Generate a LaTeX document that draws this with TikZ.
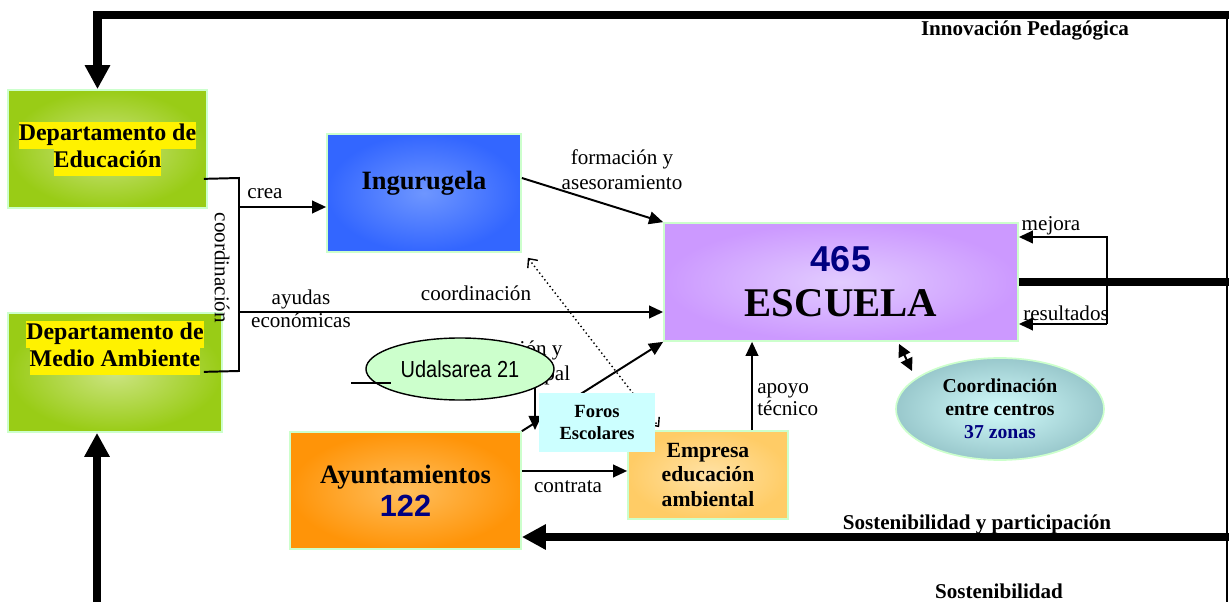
\documentclass[tikz,border=0pt]{standalone}
\usepackage{fontspec}
\usepackage{tikz}
\usetikzlibrary{shapes.geometric,arrows.meta}
\setmainfont{Liberation Serif}
\newfontfamily\arial{Liberation Sans}
\newfontfamily\arialn[FakeStretch=0.86]{Liberation Sans}
\definecolor{marino}{HTML}{000080}
\definecolor{bordeverde}{HTML}{CCFFCC}
\definecolor{verdeA}{HTML}{CCE482}
\definecolor{verdeB}{HTML}{99CC16}
\definecolor{azulA}{HTML}{6E96FF}
\definecolor{azulB}{HTML}{3366FF}
\definecolor{moradoA}{HTML}{E2CCFF}
\definecolor{moradoB}{HTML}{CC99FF}
\definecolor{naranjaA}{HTML}{FFBE5C}
\definecolor{naranjaB}{HTML}{FF9408}
\definecolor{cremaA}{HTML}{FFE2A6}
\definecolor{cremaB}{HTML}{FFCC66}
\definecolor{turquesaA}{HTML}{D2FBFB}
\definecolor{turquesaB}{HTML}{99C8CC}
\definecolor{celeste}{HTML}{CCFFFF}
\newcommand{\fs}[2]{\fontsize{#1}{#2}\selectfont}
\newcommand{\resalta}[1]{{\setlength{\fboxsep}{0pt}\colorbox{yellow}{\strut #1}}}
\newcommand{\cifra}[1]{{\arial\color{marino}#1}}
\tikzstyle{caja} = [rectangle, draw=bordeverde, line width=1.2pt, align=center, inner sep=2pt]
\tikzstyle{verde} = [caja, inner color=verdeA, outer color=verdeB]
\tikzstyle{azul} = [caja, inner color=azulA, outer color=azulB]
\tikzstyle{morado} = [caja, inner color=moradoA, outer color=moradoB]
\tikzstyle{naranja} = [caja, inner color=naranjaA, outer color=naranjaB]
\tikzstyle{crema} = [caja, inner color=cremaA, outer color=cremaB]
\tikzstyle{textocaja} = [align=center, inner sep=0pt]
\tikzstyle{etiqueta} = [font=\fs{15}{17.8}, align=center, inner sep=0pt]
\tikzstyle{titulo} = [font=\bfseries\fs{15}{17}, inner sep=0pt]
\tikzstyle{linea} = [line width=1.4pt]
\tikzstyle{flecha} = [line width=1.4pt, -{Triangle[width=9pt,length=10pt]}]
\tikzstyle{doble} = [line width=1.4pt, {Triangle[width=9pt,length=9pt]}-{Triangle[width=9pt,length=9pt]}]
\tikzstyle{punteada} = [line width=1pt, dotted, {Straight Barb[length=5pt,width=9pt]}-{Straight Barb[length=5pt,width=9pt]}]
\tikzstyle{gruesa} = [line width=5.7pt, -{Triangle[width=17pt,length=17pt]}]

\begin{document}
\begin{tikzpicture}[x=0.025cm, y=-0.025cm]
\useasboundingbox (0,0) rectangle (1229,602);

\node[verde, minimum width=4.975cm, minimum height=2.95cm, font=\bfseries\fs{17}{19.2}] (educacion) at (107.5,149) {\resalta{Departamento de}\\\resalta{Educación}};
\node[verde, minimum width=5.35cm, minimum height=2.975cm] (medio) at (115,372.5) {};
\node[textocaja, font=\bfseries\fs{17}{19.2}] (mediotexto) at ([yshift=0.6125cm]medio.center) {\resalta{Departamento de}\\\resalta{Medio Ambiente}};
\node[azul, minimum width=4.85cm, minimum height=2.95cm] (ingurugela) at (424,193) {};
\node[textocaja, font=\bfseries\fs{18.8}{22}] (ingtexto) at ([yshift=0.25cm]ingurugela.center) {Ingurugela};
\node[morado, minimum width=8.85cm, minimum height=2.95cm, font=\bfseries\fs{29}{32}] (escuela) at (841,282) {{\fs{25.6}{32}\cifra{465}}\\ESCUELA};
\node[naranja, minimum width=5.775cm, minimum height=2.925cm, font=\bfseries\fs{18.9}{23.5}] (ayuntamientos) at (405.5,490.5) {Ayuntamientos\\{\fs{21.8}{23.5}\cifra{122}}};
\node[crema, minimum width=4cm, minimum height=2.2cm, font=\bfseries\fs{15.4}{17.4}] (empresa) at (708,475) {Empresa\\educación\\ambiental};
\node[ellipse, draw=bordeverde, line width=1.2pt, inner color=turquesaA, outer color=turquesaB, minimum width=5.2cm, minimum height=2.55cm, align=center, font=\bfseries\fs{14}{16.4}] (centros) at (1000,409) {Coordinación\\entre centros\\{\color{marino}37 zonas}};

\node[etiqueta] (apoyomunicipal) at (499.5,362.5) {coordinación y\\apoyo municipal};
\node[ellipse, draw, line width=1pt, fill=bordeverde, minimum width=4.7cm, minimum height=1.55cm, font=\arialn\fs{16.5}{18}] (udalsarea) at (460,369) {Udalsarea 21};

\coordinate (innovacion) at (1229,15);
\draw[gruesa] (innovacion) -| ([xshift=-0.25cm]educacion.north);
\coordinate (margen) at (1227,15);
\draw[linea] (margen) -- ++(0,587);
\draw[gruesa, -] (escuela.east) -- (1229,282);
\node[titulo] (sostpart) at (977,524) {Sostenibilidad y participación};
\coordinate (sostenibilidad) at (1229,537);
\draw[gruesa] (sostenibilidad) -- (sostenibilidad -| ayuntamientos.east);
\coordinate (base) at (97,602);
\draw[gruesa] (base) -- (base |- medio.south);

\draw[linea] ([shift={(-4,-30)}]educacion.south east) -- (239,178) -- (239,371) -- ([shift={(-19,-61)}]medio.south east);
\coordinate (nudocrea) at (239,207);
\coordinate (nudoayuda) at (239,312);
\draw[flecha] (nudocrea) -- (nudocrea -| ingurugela.west);
\draw[flecha] (nudoayuda) -- (nudoayuda -| escuela.west);
\draw[flecha] ([yshift=0.375cm]ingurugela.east) -- (escuela.north west);
\draw[punteada] ([shift={(6,5)}]ingurugela.south east) -- ([shift={(32,-3)}]empresa.north west);
\draw[flecha] (ayuntamientos.north east) -- (escuela.south west);
\coordinate (contrata) at ([yshift=0.4875cm]ayuntamientos.east);
\draw[flecha] (contrata) -- (contrata -| empresa.west);
\coordinate (apoyo) at ([xshift=1.1cm]empresa.north);
\draw[flecha] (apoyo) -- (apoyo |- escuela.south);
\draw[doble] ([shift={(58,2)}]escuela.south) -- ([shift={(-88,-38)}]centros.center);
\coordinate (mejora) at (1107,237);
\coordinate (resultados) at (1107,324);
\draw[flecha] (resultados) -- (mejora) -- (mejora -| escuela.east);
\draw[flecha] (resultados) -- (resultados -| escuela.east);
\coordinate (udal) at (351,383);
\draw[linea] (udal) -- ++(40,0);
\draw[flecha] ([shift={(75,19)}]udalsarea.center) -- ++(0,42);

\node[fill=celeste, minimum width=2.9cm, minimum height=1.475cm, align=center, font=\bfseries\fs{13.2}{15.6}] (foros) at (597,422.5) {Foros\\Escolares};

\node[etiqueta] (crealbl) at (265,194) {crea};
\node[etiqueta, font=\fs{15}{16.4}] (ayudaslbl) at (301,308.5) {ayudas\\económicas};
\node[etiqueta] (coordlbl) at (476,293) {coordinación};
\node[etiqueta] (formacionlbl) at (622,170) {formación y\\asesoramiento};
\node[etiqueta, rotate=-90] (verticallbl) at (222,268) {coordinación};
\node[etiqueta] (contratalbl) at (568,487) {contrata};
\node[etiqueta, font=\fs{15}{15.6}, anchor=west, align=left] (apoyolbl) at (757,400) {apoyo\\técnico};
\node[etiqueta] (mejoralbl) at (1051,226) {mejora};
\node[etiqueta] (resultadoslbl) at (1066,313) {resultados};
\node[titulo] (innovlbl) at (1025,31) {Innovación Pedagógica};
\node[titulo] (sostlbl) at (999,591) {Sostenibilidad};
\end{tikzpicture}
\end{document}
